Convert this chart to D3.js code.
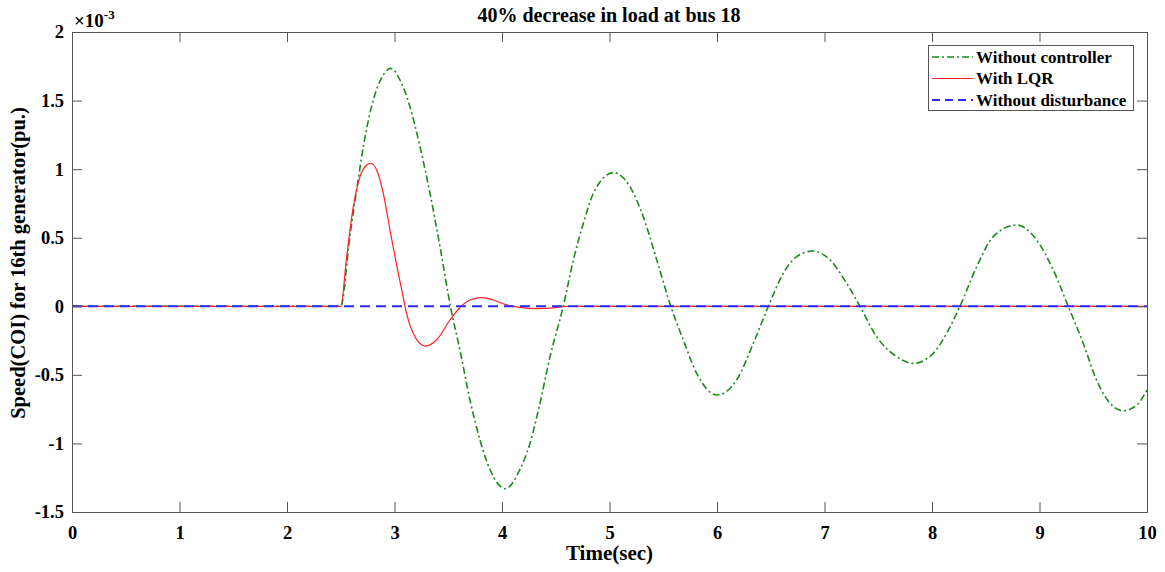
<!DOCTYPE html>
<html><head><meta charset="utf-8">
<script src="https://cdn.jsdelivr.net/npm/d3@7"></script>
<style>
body{margin:0;background:#fff;}
text{font-family:"Liberation Serif","Times New Roman",serif;font-weight:bold;fill:#000;}
</style></head>
<body><svg id="c" width="1165" height="572"></svg>
<script>
// ---- data (speed deviation, ×10^-3 pu) ----
const tGreen = [0,2.5,2.586,2.648,2.71,2.803,2.896,2.965,3.051,3.144,3.237,3.33,3.423,3.52,3.609,3.702,3.795,3.888,4.03,4.167,4.26,4.353,4.447,4.57,4.664,4.757,4.85,5.036,5.19,5.314,5.439,5.57,5.687,5.811,6.0,6.183,6.338,6.478,6.617,6.741,6.89,7.051,7.206,7.33,7.483,7.67,7.826,8.012,8.136,8.26,8.416,8.57,8.787,8.973,9.128,9.267,9.407,9.53,9.656,9.78,9.905,10];
const vGreen = [0,0,0.52,0.848,1.164,1.504,1.687,1.735,1.65,1.455,1.164,0.824,0.435,0,-0.32,-0.683,-0.975,-1.19,-1.33,-1.19,-1.0,-0.707,-0.367,0,0.338,0.605,0.824,0.975,0.872,0.653,0.34,0,-0.246,-0.489,-0.647,-0.537,-0.27,0,0.241,0.362,0.403,0.338,0.168,0,-0.22,-0.367,-0.416,-0.343,-0.197,0,0.289,0.508,0.593,0.483,0.265,0,-0.27,-0.537,-0.707,-0.761,-0.72,-0.61];
const tRed = [0,2.5,2.555,2.617,2.679,2.741,2.778,2.834,2.896,2.958,3.02,3.08,3.112,3.174,3.284,3.39,3.516,3.62,3.702,3.81,3.919,4.043,4.167,4.32,4.477,4.6,10];
const vRed = [0,0,0.362,0.726,0.945,1.03,1.043,0.994,0.824,0.556,0.3,0.07,-0.051,-0.197,-0.29,-0.246,-0.1,0,0.046,0.063,0.046,0.01,-0.008,-0.017,-0.012,0,0];
const tBlue = [0,10];
const vBlue = [0,0];
const xTicks = [0,1,2,3,4,5,6,7,8,9,10];
const yTicks = [-1.5,-1,-0.5,0,0.5,1,1.5,2];
const yTickLabels = ["-1.5","-1","-0.5","0","0.5","1","1.5","2"];
const seriesNames = ["Without controller","With LQR","Without disturbance"];
const titleText = "40% decrease in load at bus 18";
const xLabel = "Time(sec)";
const yLabel = "Speed(COI) for 16th generator(pu.)";

const L=72, R=1147, T=32, B=512;
const svg = d3.select("#c");
const x = d3.scaleLinear().domain([0,10]).range([L,R]);
const y = d3.scaleLinear().domain([-1.5,2]).range([B,T]);

svg.append("clipPath").attr("id","clp").append("rect")
  .attr("x",L).attr("y",T).attr("width",R-L).attr("height",B-T);

const line = d3.line().x(d=>x(d[0])).y(d=>y(d[1])).curve(d3.curveMonotoneX);
const g = svg.append("g").attr("clip-path","url(#clp)");
g.append("path").datum(d3.zip(tGreen,vGreen)).attr("d",line)
  .attr("fill","none").attr("stroke","#1a8a1a").attr("stroke-width",1.6)
  .attr("stroke-dasharray","7,3,2,3");
g.append("path").datum(d3.zip(tRed,vRed)).attr("d",line)
  .attr("fill","none").attr("stroke","#ff2020").attr("stroke-width",1.2);
g.append("path").datum(d3.zip(tBlue,vBlue)).attr("d",line)
  .attr("fill","none").attr("stroke","#2a2aff").attr("stroke-width",2)
  .attr("stroke-dasharray","10,6");

// axes (MATLAB style, inward ticks, box)
const axCol="#555";
const fmtY = d=>yTickLabels[yTicks.indexOf(d)];
const styleTxt = a=>a.selectAll("text").attr("font-size",18.5).attr("font-family","Liberation Serif").attr("font-weight","bold");
svg.append("g").attr("transform",`translate(0,${B})`)
  .call(d3.axisBottom(x).tickValues(xTicks).tickSize(-10).tickPadding(14).tickFormat(d3.format("d")))
  .call(a=>{a.select(".domain").attr("stroke",axCol);a.selectAll("line").attr("stroke",axCol);styleTxt(a);});
svg.append("g").attr("transform",`translate(0,${T})`)
  .call(d3.axisTop(x).tickValues(xTicks).tickSize(-10).tickFormat(""))
  .call(a=>{a.select(".domain").attr("stroke",axCol);a.selectAll("line").attr("stroke",axCol);});
svg.append("g").attr("transform",`translate(${L},0)`)
  .call(d3.axisLeft(y).tickValues(yTicks).tickSize(-10).tickPadding(8).tickFormat(fmtY))
  .call(a=>{a.select(".domain").attr("stroke",axCol);a.selectAll("line").attr("stroke",axCol);styleTxt(a);});
svg.append("g").attr("transform",`translate(${R},0)`)
  .call(d3.axisRight(y).tickValues(yTicks).tickSize(-10).tickFormat(""))
  .call(a=>{a.select(".domain").attr("stroke",axCol);a.selectAll("line").attr("stroke",axCol);});

// exponent
const ex = svg.append("text").attr("x",74).attr("y",27).attr("font-size",19).attr("font-weight","normal");
ex.append("tspan").text("×10");
ex.append("tspan").attr("dy",-8).attr("font-size",13).text("-3");

// titles
svg.append("text").attr("x",609).attr("y",22).attr("text-anchor","middle").attr("font-size",20).text(titleText);
svg.append("text").attr("x",(L+R)/2).attr("y",560).attr("text-anchor","middle").attr("font-size",21).text(xLabel);
svg.append("text").attr("transform",`translate(25,263) rotate(-90)`).attr("text-anchor","middle").attr("font-size",20.5).text(yLabel);

// legend
const lg = svg.append("g");
lg.append("rect").attr("x",928.5).attr("y",45.5).attr("width",205).attr("height",65)
  .attr("fill","#fff").attr("stroke","#555").attr("stroke-width",1);
const lstyles=[{c:"#1a8a1a",w:1.6,d:"7,3,2,3"},{c:"#ff2020",w:1.2,d:null},{c:"#2a2aff",w:2,d:"8,5"}];
seriesNames.forEach((n,i)=>{
  const yy=57+i*21.5;
  lg.append("line").attr("x1",932).attr("x2",973).attr("y1",yy).attr("y2",yy)
    .attr("stroke",lstyles[i].c).attr("stroke-width",lstyles[i].w).attr("stroke-dasharray",lstyles[i].d);
  lg.append("text").attr("x",976).attr("y",yy+5.5).attr("font-size",17).text(n);
});
</script></body></html>
